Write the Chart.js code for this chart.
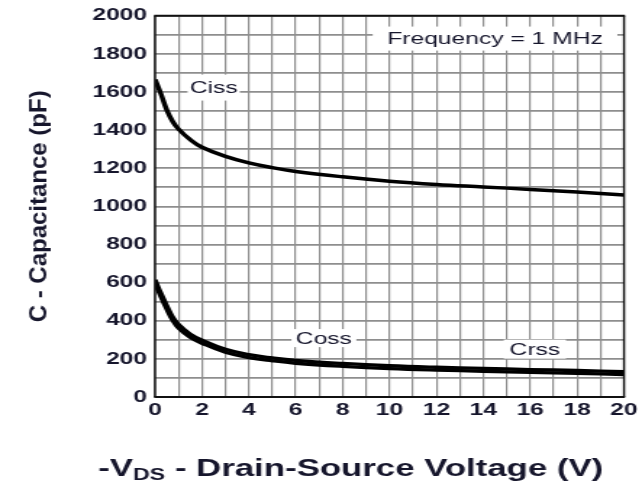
<!DOCTYPE html>
<html><head><meta charset="utf-8">
<script src="https://cdn.jsdelivr.net/npm/chart.js@4"></script>
<style>html,body{margin:0;padding:0;background:#fff;overflow:hidden}</style>
</head><body>
<canvas id="c" width="443" height="493" style="display:block;width:642px;height:493px"></canvas>
<script>
// ---- data ----
const vds  = [0, 0.25, 0.5, 0.75, 1, 1.5, 2, 3, 4, 5, 6, 8, 10, 12, 14, 16, 18, 20];
const ciss = [1665, 1590, 1505, 1445, 1405, 1350, 1310, 1262, 1228, 1203, 1183, 1155, 1132, 1115, 1102, 1089, 1075, 1060];
const coss = [615, 545, 480, 420, 380, 330, 298, 250, 222, 205, 192, 176, 164, 156, 150, 144, 139, 133];
const crss = [595, 525, 460, 402, 362, 313, 282, 235, 207, 190, 177, 161, 149, 141, 135, 129, 124, 118];
const xTickLabels = [0, 2, 4, 6, 8, 10, 12, 14, 16, 18, 20];
const yTickLabels = [0, 200, 400, 600, 800, 1000, 1200, 1400, 1600, 1800, 2000];
const yTitle = 'C - Capacitance (pF)';
const xTitleParts = ['-V', 'DS', ' - Drain-Source Voltage (V)'];
const curveNames = ['Ciss', 'Coss', 'Crss'];
const noteText = 'Frequency = 1 MHz';

// ---- annotation placement (data coordinates) ----
const notes = [
  {text: noteText,      x: 14.5, y: 1880, padX: 10, padY: 3.5},
  {text: curveNames[0], x: 2.5,  y: 1623, padX: 1.5, padY: 4.5},
  {text: curveNames[1], x: 7.2,  y: 309,  padX: 3,  padY: 0.5},
  {text: curveNames[2], x: 16.2, y: 251,  padX: 4,  padY: 1}
];

const FONT = '"Liberation Sans", Arial, Helvetica, sans-serif';
const TXT = '#16162c';

const pts = (ys) => vds.map((v, i) => ({x: v, y: ys[i]}));

const notesPlugin = {
  id: 'notes',
  beforeDatasetsDraw(chart) {
    const {ctx, scales: {x, y}} = chart;
    ctx.save();
    ctx.font = '17px ' + FONT;
    ctx.textAlign = 'center';
    ctx.textBaseline = 'middle';
    notes.forEach(n => {
      const px = x.getPixelForValue(n.x), py = y.getPixelForValue(n.y);
      const w = ctx.measureText(n.text).width + 2 * n.padX;
      const h = 17 + 2 * n.padY;
      ctx.fillStyle = '#fff';
      ctx.fillRect(px - w / 2, py - h / 2, w, h);
      ctx.fillStyle = TXT;
      ctx.fillText(n.text, px, py + 1);
    });
    ctx.restore();
  },
  afterDatasetsDraw(chart) {
    const {ctx, chartArea: a} = chart;
    ctx.save();
    ctx.strokeStyle = '#111';
    ctx.lineWidth = 2;
    ctx.beginPath();
    ctx.moveTo(a.left - 0.7, a.top); ctx.lineTo(a.right + 0.7, a.top);
    ctx.moveTo(a.left - 0.7, a.bottom); ctx.lineTo(a.right + 0.7, a.bottom);
    ctx.stroke();
    ctx.lineWidth = 1.4;
    ctx.beginPath();
    ctx.moveTo(a.left, a.top); ctx.lineTo(a.left, a.bottom);
    ctx.moveTo(a.right, a.top); ctx.lineTo(a.right, a.bottom);
    ctx.stroke();
    ctx.restore();
  },
  afterDraw(chart) {
    const {ctx, chartArea: a} = chart;
    ctx.save();
    ctx.fillStyle = TXT;
    ctx.translate(27.6, (a.top + a.bottom) / 2);
    ctx.rotate(-Math.PI / 2);
    ctx.scale(1, 0.72);
    ctx.font = 'bold 24px ' + FONT;
    ctx.textAlign = 'center';
    ctx.textBaseline = 'middle';
    ctx.fillText(yTitle, 0, 0);
    ctx.restore();
    ctx.save();
    ctx.fillStyle = TXT;
    ctx.textBaseline = 'alphabetic';
    ctx.textAlign = 'left';
    const sizes = [24, 16, 24], dys = [0, 4, 0];
    let total = 0;
    const widths = xTitleParts.map((t, i) => { ctx.font = 'bold ' + sizes[i] + 'px ' + FONT; const w = ctx.measureText(t).width; total += w; return w; });
    let cx = 242 - total / 2;
    const base = 476;
    xTitleParts.forEach((t, i) => {
      ctx.font = 'bold ' + sizes[i] + 'px ' + FONT;
      ctx.fillText(t, cx, base + dys[i]);
      cx += widths[i];
    });
    ctx.restore();
  }
};

new Chart(document.getElementById('c'), {
  type: 'line',
  data: {
    datasets: [
      {label: curveNames[0], data: pts(ciss), borderColor: '#000', borderWidth: 3.5},
      {label: curveNames[1], data: pts(coss), borderColor: '#000', borderWidth: 3.3},
      {label: curveNames[2], data: pts(crss), borderColor: '#000', borderWidth: 3.3}
    ]
  },
  options: {
    responsive: false,
    maintainAspectRatio: false,
    animation: false,
    devicePixelRatio: 1,
    elements: {point: {radius: 0}, line: {tension: 0.4, fill: false}},
    layout: {padding: {top: 15, right: 11, left: 0, bottom: 0}},
    plugins: {legend: {display: false}, tooltip: {enabled: false}},
    scales: {
      x: {
        type: 'linear', min: 0, max: 20,
        afterFit: s => { s.height = 96; },
        grid: {color: '#8e8e8e', lineWidth: 1.2, drawTicks: false},
        border: {display: false},
        ticks: {
          stepSize: 1, padding: 3, maxRotation: 0, autoSkip: false,
          color: TXT, font: {family: FONT, size: 17, weight: 'bold'},
          callback: v => xTickLabels.includes(v) ? String(v) : ''
        }
      },
      y: {
        type: 'linear', min: 0, max: 2000,
        afterFit: s => { s.width = 107; },
        grid: {color: '#8e8e8e', lineWidth: 1.7, drawTicks: false},
        border: {display: false},
        ticks: {
          stepSize: 100, padding: 5.5, autoSkip: false,
          color: TXT, font: {family: FONT, size: 17, weight: 'bold'},
          callback: v => yTickLabels.includes(v) ? String(v) : ''
        }
      }
    }
  },
  plugins: [notesPlugin]
});
</script>
</body></html>
